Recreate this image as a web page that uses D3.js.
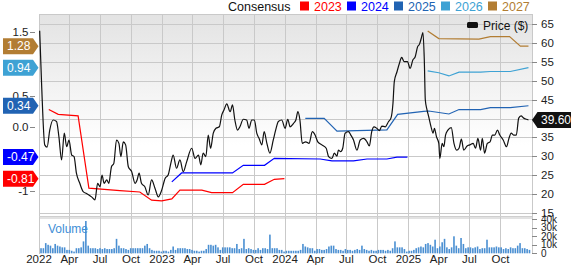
<!DOCTYPE html>
<html>
<head>
<meta charset="utf-8">
<script src="https://cdn.jsdelivr.net/npm/d3@7"></script>
<style>
  html, body { margin: 0; padding: 0; background: #fff; }
  svg { display: block; font-family: "Liberation Sans", Arial, sans-serif; }
</style>
</head>
<body>
<div id="chart"></div>
<script>
// ---- data ----
const price = [
  ['2022-01-03', 63.3], ['2022-01-09', 48.4], ['2022-01-18', 33.0], ['2022-01-25', 32.4],
  ['2022-02-02', 37.0], ['2022-02-12', 39.6], ['2022-02-22', 39.2], ['2022-03-01', 35.2],
  ['2022-03-09', 29.0], ['2022-03-17', 36.1], ['2022-03-24', 32.5], ['2022-03-31', 34.3],
  ['2022-04-08', 30.3], ['2022-04-15', 29.9], ['2022-04-22', 25.5], ['2022-05-02', 22.8],
  ['2022-05-12', 20.6], ['2022-05-22', 20.1], ['2022-05-29', 19.7], ['2022-06-06', 19.2],
  ['2022-06-16', 18.4], ['2022-06-24', 22.8], ['2022-07-01', 21.9], ['2022-07-07', 25.0],
  ['2022-07-13', 22.8], ['2022-07-21', 23.7], ['2022-07-27', 22.8], ['2022-08-04', 27.2],
  ['2022-08-11', 28.1], ['2022-08-19', 34.3], ['2022-08-26', 33.4], ['2022-09-01', 29.9],
  ['2022-09-08', 33.8], ['2022-09-15', 33.0], ['2022-09-23', 27.2], ['2022-10-03', 25.9],
  ['2022-10-13', 22.8], ['2022-10-19', 23.7], ['2022-10-25', 25.5], ['2022-11-01', 22.8],
  ['2022-11-11', 21.9], ['2022-11-21', 19.7], ['2022-12-01', 23.7], ['2022-12-11', 21.5],
  ['2022-12-21', 19.2], ['2022-12-31', 21.0], ['2023-01-10', 24.1], ['2023-01-19', 25.0],
  ['2023-01-27', 28.1], ['2023-02-03', 30.3], ['2023-02-13', 26.8], ['2023-02-23', 29.0],
  ['2023-03-05', 25.9], ['2023-03-15', 28.5], ['2023-03-30', 32.1], ['2023-04-09', 29.4],
  ['2023-04-19', 30.3], ['2023-04-26', 27.7], ['2023-05-03', 30.8], ['2023-05-11', 29.9],
  ['2023-05-18', 35.6], ['2023-05-25', 32.1], ['2023-06-02', 36.1], ['2023-06-10', 37.4],
  ['2023-06-20', 37.8], ['2023-06-27', 40.9], ['2023-07-04', 42.3], ['2023-07-12', 43.9],
  ['2023-07-22', 41.8], ['2023-07-29', 43.6], ['2023-08-05', 39.6], ['2023-08-13', 36.9],
  ['2023-08-20', 37.8], ['2023-08-30', 39.8], ['2023-09-09', 39.6], ['2023-09-16', 37.4],
  ['2023-09-24', 39.6], ['2023-10-02', 39.6], ['2023-10-09', 36.1], ['2023-10-16', 34.7],
  ['2023-10-24', 33.0], ['2023-10-31', 36.5], ['2023-11-08', 33.4], ['2023-11-17', 30.8],
  ['2023-11-27', 34.3], ['2023-12-04', 36.9], ['2023-12-12', 39.2], ['2023-12-22', 39.6],
  ['2024-01-01', 37.4], ['2024-01-09', 39.8], ['2024-01-16', 37.8], ['2024-01-26', 38.7],
  ['2024-02-02', 39.6], ['2024-02-08', 41.8], ['2024-02-14', 39.6], ['2024-02-21', 33.4],
  ['2024-03-02', 33.8], ['2024-03-12', 33.4], ['2024-03-22', 36.5], ['2024-03-30', 35.6],
  ['2024-04-07', 33.8], ['2024-04-19', 33.0], ['2024-05-02', 32.1], ['2024-05-09', 29.9],
  ['2024-05-19', 29.4], ['2024-05-26', 30.8], ['2024-06-03', 30.0], ['2024-06-07', 31.6],
  ['2024-06-14', 31.2], ['2024-06-20', 32.1], ['2024-06-27', 36.1], ['2024-07-07', 36.5],
  ['2024-07-14', 35.6], ['2024-07-22', 34.3], ['2024-08-01', 31.6], ['2024-08-11', 34.3],
  ['2024-08-21', 34.7], ['2024-08-31', 33.8], ['2024-09-07', 32.7], ['2024-09-14', 36.5],
  ['2024-09-21', 37.8], ['2024-09-29', 37.4], ['2024-10-07', 36.8], ['2024-10-14', 38.0],
  ['2024-10-24', 37.8], ['2024-11-03', 39.2], ['2024-11-10', 40.1], ['2024-11-16', 44.0],
  ['2024-11-20', 49.8], ['2024-11-28', 52.4], ['2024-12-05', 54.6], ['2024-12-12', 56.2],
  ['2024-12-19', 55.1], ['2024-12-29', 55.1], ['2025-01-06', 53.3], ['2025-01-14', 55.5],
  ['2025-01-21', 56.4], ['2025-01-28', 59.0], ['2025-02-03', 59.8], ['2025-02-08', 61.3],
  ['2025-02-13', 62.8], ['2025-02-17', 55.5], ['2025-02-20', 44.9], ['2025-02-25', 42.3],
  ['2025-03-02', 40.5], ['2025-03-09', 37.8], ['2025-03-15', 36.1], ['2025-03-19', 37.4],
  ['2025-03-25', 35.2], ['2025-04-01', 33.4], ['2025-04-04', 29.4], ['2025-04-11', 33.4],
  ['2025-04-16', 32.5], ['2025-04-21', 35.6], ['2025-04-28', 36.9], ['2025-05-08', 37.6],
  ['2025-05-16', 33.4], ['2025-05-24', 31.6], ['2025-05-31', 32.1], ['2025-06-07', 34.5],
  ['2025-06-14', 31.6], ['2025-06-24', 32.7], ['2025-07-02', 33.0], ['2025-07-12', 33.4],
  ['2025-07-19', 32.1], ['2025-07-26', 34.7], ['2025-08-03', 31.6], ['2025-08-08', 34.7],
  ['2025-08-15', 30.8], ['2025-08-23', 33.4], ['2025-08-31', 33.8], ['2025-09-07', 35.6],
  ['2025-09-14', 35.6], ['2025-09-22', 36.9], ['2025-09-29', 35.6], ['2025-10-09', 34.3],
  ['2025-10-19', 32.5], ['2025-10-26', 34.7], ['2025-11-02', 36.1], ['2025-11-09', 35.6],
  ['2025-11-17', 35.6], ['2025-11-24', 40.1], ['2025-12-01', 40.7], ['2025-12-09', 40.1],
  ['2025-12-17', 39.8], ['2025-12-23', 39.6]
]

// consensus EPS by fiscal year
const eps2023 = [
  ['2022-01-30', 0.28], ['2022-02-27', 0.205], ['2022-04-27', 0.18], ['2022-05-29', -0.96],
  ['2022-08-29', -1.00], ['2022-10-27', -1.02], ['2022-12-01', -1.15], ['2022-12-31', -1.16],
  ['2023-01-30', -1.13], ['2023-02-23', -0.99], ['2023-04-29', -0.99], ['2023-05-28', -1.03],
  ['2023-07-29', -1.03], ['2023-08-30', -0.90], ['2023-11-01', -0.90], ['2023-11-30', -0.82],
  ['2023-12-30', -0.81]
]
const eps2024 = [
  ['2023-01-30', -0.86], ['2023-02-28', -0.72], ['2023-07-29', -0.72], ['2023-08-30', -0.60],
  ['2023-11-01', -0.60], ['2023-11-30', -0.49], ['2024-04-14', -0.50], ['2024-05-19', -0.53],
  ['2024-07-22', -0.53], ['2024-08-31', -0.50], ['2024-10-29', -0.50], ['2024-11-28', -0.47],
  ['2024-12-29', -0.47]
]
const eps2025 = [
  ['2024-03-01', 0.14], ['2024-04-26', 0.14], ['2024-06-03', -0.06], ['2024-10-29', -0.04],
  ['2024-11-30', 0.205], ['2025-02-15', 0.25], ['2025-03-02', 0.257], ['2025-05-01', 0.21],
  ['2025-05-31', 0.28], ['2025-08-03', 0.28], ['2025-09-01', 0.31], ['2025-10-30', 0.31],
  ['2025-12-23', 0.34]
]
const eps2026 = [
  ['2025-02-27', 0.89], ['2025-04-01', 0.86], ['2025-05-01', 0.81], ['2025-05-31', 0.87],
  ['2025-08-03', 0.87], ['2025-09-01', 0.88], ['2025-10-30', 0.88], ['2025-12-23', 0.94]
]
const eps2027 = [
  ['2025-02-27', 1.52], ['2025-04-01', 1.40], ['2025-07-29', 1.39], ['2025-09-01', 1.43],
  ['2025-10-28', 1.43], ['2025-11-29', 1.28], ['2025-12-23', 1.28]
]

// weekly volume (thousands of shares), first week ending 2022-01-07
const volumeStart = '2022-01-07'
const volume = [
  6, 6, 12, 10, 9, 6, 11, 9, 8, 7, 7, 4, 4, 3, 2, 6, 6, 7, 14, 38,
  9, 6, 6, 6, 5, 6, 5, 6, 5, 5, 5, 6, 17, 9, 6, 6, 5, 4, 6, 6,
  6, 6, 6, 6, 9, 11, 6, 4, 3, 3, 3, 2, 3, 3, 2, 4, 8, 4, 6, 6,
  6, 6, 5, 5, 4, 3, 3, 2, 3, 3, 5, 10, 10, 9, 10, 7, 4, 7, 7, 7,
  7, 6, 6, 11, 5, 6, 17, 5, 6, 5, 4, 4, 6, 4, 6, 6, 5, 22, 6, 6,
  6, 4, 4, 2, 3, 3, 3, 3, 3, 3, 4, 11, 8, 7, 6, 6, 3, 5, 5, 4,
  4, 5, 8, 9, 9, 5, 4, 4, 3, 5, 4, 4, 3, 4, 5, 4, 9, 5, 4, 3,
  4, 3, 3, 4, 4, 4, 3, 4, 3, 6, 14, 7, 7, 7, 5, 2, 3, 3, 4, 6,
  7, 8, 7, 11, 12, 10, 8, 16, 6, 8, 13, 17, 7, 5, 7, 20, 9, 6, 18, 11,
  6, 7, 7, 6, 7, 8, 5, 6, 6, 16, 7, 7, 7, 8, 7, 7, 5, 6, 5, 7,
  6, 6, 9, 12, 6, 6, 5, 4
]

const series = [
  { year: '2023', color: '#ff0000', data: eps2023 },
  { year: '2024', color: '#0000ff', data: eps2024 },
  { year: '2025', color: '#2163b3', data: eps2025 },
  { year: '2026', color: '#3ea2d4', data: eps2026 },
  { year: '2027', color: '#b27d33', data: eps2027 }
]

const priceTicks = [15, 20, 25, 30, 35, 40, 45, 50, 55, 60, 65]
const epsTicks = [-1, -0.5, 0, 0.5, 1, 1.5]
const epsTickLabels = ['-1', '-0.5', '0.0', '0.5', '1.0', '1.5']
const volTicks = [0, 10, 20, 30, 40]
const volTickLabels = ['0', '10k', '20k', '30k', '40k']
const lastPrice = 39.60

// ---- layout ----
const W = 571, H = 266
const plotL = 39, plotR = 532, plotT = 14, mainB = 216, volT = 219, volB = 254
const parse = d3.timeParse('%Y-%m-%d')
const font = '"Liberation Sans", Arial, sans-serif'

const x = d3.scaleTime()
  .domain([new Date(2022, 0, 1), new Date(2026, 0, 1)])
  .range([plotL, 531.5])
const yPrice = d3.scaleLinear().domain([15, 65]).range([212.7, 24.3])
const yEps = d3.scaleLinear().domain([-1, 1.5]).range([190.7, 32.2])
const yVol = d3.scaleLinear().domain([0, 40]).range([253.3, 219.3])

// tag positions, used to skip axis labels hidden behind the tags
const tagYs = series.map(s => yEps(s.data[s.data.length - 1][1]))
const priceTagY = yPrice(lastPrice)

const svg = d3.select('#chart').append('svg')
  .attr('width', W).attr('height', H)

const defs = svg.append('defs')
const grad = defs.append('linearGradient').attr('id', 'bg').attr('x1', 0).attr('x2', 0).attr('y1', 0).attr('y2', 1)
grad.append('stop').attr('offset', '0%').attr('stop-color', '#e3e3e3')
grad.append('stop').attr('offset', '65%').attr('stop-color', '#ffffff')
defs.append('clipPath').attr('id', 'clip').append('rect')
  .attr('x', plotL).attr('y', plotT).attr('width', plotR - plotL).attr('height', mainB - plotT)

// panels
svg.append('rect').attr('x', plotL).attr('y', plotT).attr('width', plotR - plotL).attr('height', mainB - plotT)
  .attr('fill', 'url(#bg)')
svg.append('rect').attr('x', plotL).attr('y', mainB).attr('width', plotR - plotL).attr('height', volT - mainB)
  .attr('fill', '#e2e2e2')

// vertical gridlines (quarters)
const quarters = x.ticks(d3.timeMonth.every(3))
svg.append('g').selectAll('line').data(quarters).join('line')
  .attr('x1', d => Math.round(x(d)) + 0.5).attr('x2', d => Math.round(x(d)) + 0.5)
  .attr('y1', plotT).attr('y2', volB)
  .attr('stroke', '#c9c9c9').attr('stroke-width', 1)

// horizontal gridlines (price)
svg.append('g').selectAll('line').data(priceTicks).join('line')
  .attr('x1', plotL).attr('x2', plotR)
  .attr('y1', d => Math.round(yPrice(d)) + 0.5).attr('y2', d => Math.round(yPrice(d)) + 0.5)
  .attr('stroke', '#c9c9c9').attr('stroke-width', 1)

// borders
svg.append('line').attr('x1', plotL).attr('x2', plotR).attr('y1', plotT + 0.5).attr('y2', plotT + 0.5).attr('stroke', '#c9c9c9')
svg.append('line').attr('x1', plotL + 0.5).attr('x2', plotL + 0.5).attr('y1', plotT).attr('y2', volB).attr('stroke', '#c9c9c9')
svg.append('line').attr('x1', plotR + 0.5).attr('x2', plotR + 0.5).attr('y1', plotT).attr('y2', volB).attr('stroke', '#c9c9c9')
svg.append('line').attr('x1', plotL).attr('x2', plotR).attr('y1', mainB + 0.5).attr('y2', mainB + 0.5).attr('stroke', '#cfcfcf')

// volume bars
const vol0 = parse(volumeStart)
svg.append('g').selectAll('rect').data(volume).join('rect')
  .attr('x', (d, i) => x(d3.timeWeek.offset(vol0, i)) - 0.8)
  .attr('width', 1.6)
  .attr('y', d => yVol(d))
  .attr('height', d => yVol(0) - yVol(d))
  .attr('fill', '#4a8fd2')

svg.append('text').attr('x', 48).attr('y', 233)
  .attr('font-family', font).attr('font-size', '12px').attr('fill', '#3e8ed6')
  .text('Volume')

// consensus lines
const plot = svg.append('g').attr('clip-path', 'url(#clip)')
const epsLine = d3.line().x(d => x(parse(d[0]))).y(d => yEps(d[1]))
series.forEach(s => {
  plot.append('path').datum(s.data)
    .attr('d', epsLine)
    .attr('fill', 'none').attr('stroke', s.color).attr('stroke-width', 1.2)
})

// price line
const priceLine = d3.line().x(d => x(parse(d[0]))).y(d => yPrice(d[1])).curve(d3.curveMonotoneX)
plot.append('path').datum(price)
  .attr('d', priceLine)
  .attr('fill', 'none').attr('stroke', '#111').attr('stroke-width', 1.2)

// right axis: price
const axisText = g => g
  .attr('font-family', font).attr('font-size', '11.5px').attr('fill', '#222')
const rAx = svg.append('g')
rAx.selectAll('line').data(priceTicks).join('line')
  .attr('x1', plotR).attr('x2', plotR + 5)
  .attr('y1', d => Math.round(yPrice(d)) + 0.5).attr('y2', d => Math.round(yPrice(d)) + 0.5)
  .attr('stroke', '#888')
rAx.selectAll('text').data(priceTicks.filter(d => Math.abs(yPrice(d) - priceTagY) > 7)).join('text')
  .attr('x', plotR + 9).attr('y', d => yPrice(d)).attr('dy', '0.36em')
  .call(axisText).text(d => d)

// right axis: volume (tight spacing, slightly smaller text)
const vAx = svg.append('g')
vAx.selectAll('line').data(volTicks).join('line')
  .attr('x1', plotR).attr('x2', plotR + 5)
  .attr('y1', d => Math.round(yVol(d)) + 0.5).attr('y2', d => Math.round(yVol(d)) + 0.5)
  .attr('stroke', '#888')
vAx.selectAll('text').data(volTicks).join('text')
  .attr('x', plotR + 9).attr('y', d => yVol(d)).attr('dy', '0.36em')
  .call(axisText).attr('font-size', '10px')
  .text((d, i) => volTickLabels[i])

// left axis: eps
const lAx = svg.append('g')
lAx.selectAll('line').data(epsTicks).join('line')
  .attr('x1', 30).attr('x2', 35)
  .attr('y1', d => Math.round(yEps(d)) + 0.5).attr('y2', d => Math.round(yEps(d)) + 0.5)
  .attr('stroke', '#888')
const epsLabelData = epsTicks.map((d, i) => ({ v: d, label: epsTickLabels[i] }))
  .filter(d => tagYs.every(t => Math.abs(yEps(d.v) - t) > 7))
lAx.selectAll('text').data(epsLabelData).join('text')
  .attr('x', 28.5).attr('y', d => yEps(d.v)).attr('dy', '0.36em').attr('text-anchor', 'end')
  .call(axisText).text(d => d.label)

// bottom axis
const xTicks = x.ticks(d3.timeMonth.every(3)).filter(d => x(d) < plotR - 10)
svg.append('g').selectAll('text').data(xTicks).join('text')
  .attr('x', d => x(d)).attr('y', 263).attr('text-anchor', 'middle')
  .call(axisText)
  .text(d => d.getMonth() === 0 ? d3.timeFormat('%Y')(d) : d3.timeFormat('%b')(d))

// left value tags (latest consensus)
const tags = svg.append('g')
series.forEach((s, i) => {
  const v = s.data[s.data.length - 1][1]
  const yy = tagYs[i]
  tags.append('path')
    .attr('d', `M3,${yy - 8}H33L38.5,${yy}L33,${yy + 8}H3Z`)
    .attr('fill', s.color)
  tags.append('text').attr('x', 7).attr('y', yy).attr('dy', '0.36em')
    .attr('font-family', font).attr('font-size', '12px').attr('fill', '#fff')
    .text(v.toFixed(2))
})

// right price tag
svg.append('path')
  .attr('d', `M532,${priceTagY}L537.5,${priceTagY - 8}H571V${priceTagY + 8}H537.5Z`)
  .attr('fill', '#111')
svg.append('text').attr('x', 541).attr('y', priceTagY).attr('dy', '0.36em')
  .attr('font-family', font).attr('font-size', '12px').attr('fill', '#fff')
  .text(lastPrice.toFixed(2))

// top legend
const legend = svg.append('g').attr('font-family', font).attr('font-size', '12.5px')
legend.append('text').attr('x', 228).attr('y', 10.5).attr('fill', '#111').text('Consensus')
series.forEach((s, i) => {
  const lx = 300 + i * 47
  legend.append('rect').attr('x', lx).attr('y', 1.5).attr('width', 9).attr('height', 9).attr('fill', s.color)
  legend.append('text').attr('x', lx + 14).attr('y', 10.5).attr('fill', s.color).text(s.year)
})

// price legend
svg.append('rect').attr('x', 467).attr('y', 22).attr('width', 11).attr('height', 6).attr('rx', 1.5).attr('fill', '#111')
svg.append('text').attr('x', 483).attr('y', 29.5)
  .attr('font-family', font).attr('font-size', '12px').attr('fill', '#111')
  .text('Price ($)')
</script>
</body>
</html>
